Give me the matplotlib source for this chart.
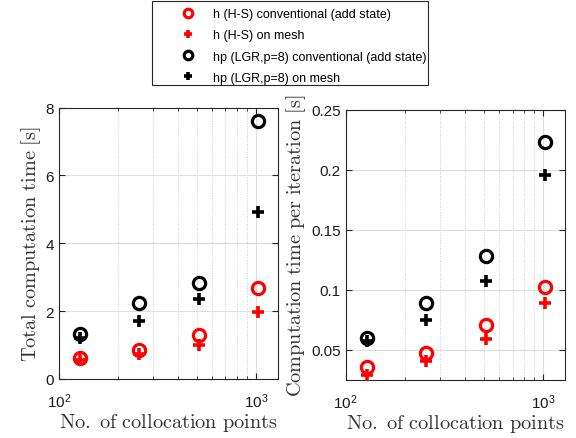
import matplotlib.pyplot as plt
from matplotlib.patches import Rectangle
from matplotlib.ticker import LogLocator, NullFormatter, FormatStrFormatter

# collocation points
n_points = [128, 256, 512, 1024]

# total computation time [s]
tot_h_conv = [0.62, 0.85, 1.30, 2.67]
tot_h_mesh = [0.57, 0.75, 1.00, 1.97]
tot_hp_conv = [1.33, 2.25, 2.83, 7.60]
tot_hp_mesh = [1.20, 1.72, 2.35, 4.92]

# computation time per iteration [s]
it_h_conv = [0.036, 0.047, 0.071, 0.102]
it_h_mesh = [0.029, 0.041, 0.059, 0.089]
it_hp_conv = [0.060, 0.089, 0.128, 0.223]
it_hp_mesh = [0.057, 0.075, 0.107, 0.196]

labels = ['h (H-S) conventional (add state)', 'h (H-S) on mesh',
          'hp (LGR,p=8) conventional (add state)', 'hp (LGR,p=8) on mesh']

plt.rcParams['font.family'] = ['Liberation Sans', 'DejaVu Sans']
plt.rcParams['mathtext.fontset'] = 'cm'

fig = plt.figure(figsize=(5.76, 4.39), dpi=100)
ax1 = fig.add_axes([0.1024, 0.1344, 0.3796, 0.6184])
ax2 = fig.add_axes([0.6002, 0.1326, 0.3806, 0.6152])

axcol = '0.15'


def draw(ax, series, ylim, yticks, ylabel):
    styles = [('o', 'red'), ('+', 'red'), ('o', 'black'), ('+', 'black')]
    handles = []
    for vals, (m, c), lab in zip(series, styles, labels):
        if m == 'o':
            h, = ax.plot(n_points, vals, m, ms=8.8, mfc='none', mec=c, mew=2.3,
                         ls='none', label=lab, zorder=3)
        else:
            h, = ax.plot(n_points, vals, m, ms=8, mec=c, mew=2.6,
                         ls='none', label=lab, zorder=3)
        handles.append(h)
    ax.set_xscale('log')
    ax.set_xlim(100, 1290)
    ax.set_ylim(*ylim)
    ax.set_yticks(yticks)
    ax.yaxis.set_major_formatter(FormatStrFormatter('%g'))
    ax.xaxis.set_minor_locator(LogLocator(base=10, subs=range(2, 10)))
    ax.xaxis.set_minor_formatter(NullFormatter())
    ax.grid(True, which='major', color='0.87', lw=0.8, ls='-')
    ax.grid(True, which='minor', axis='x', color='0.8', lw=0.7, ls=':')
    ax.set_axisbelow(True)
    ax.tick_params(which='both', direction='in', top=True, right=True,
                   colors=axcol, labelsize=11, labelcolor='0.1')
    ax.tick_params(which='major', length=4)
    ax.tick_params(which='minor', length=2)
    ax.tick_params(axis='x', which='major', pad=9)
    for s in ax.spines.values():
        s.set_color(axcol)
        s.set_linewidth(0.8)
    ax.set_xlabel(r'$\mathrm{No.\ of\ collocation\ points}$', fontsize=14.6,
                  color='0.2', labelpad=1)
    ax.set_ylabel(ylabel, fontsize=14.6, color='0.2', labelpad=2)
    return handles


handles = draw(ax1, [tot_h_conv, tot_h_mesh, tot_hp_conv, tot_hp_mesh],
               (0, 8), [0, 2, 4, 6, 8],
               r'$\mathrm{Total\ computation\ time\ [s]}$')
draw(ax2, [it_h_conv, it_h_mesh, it_hp_conv, it_hp_mesh],
     (0.025, 0.25), [0.05, 0.1, 0.15, 0.2, 0.25],
     r'$\mathrm{Computation\ time\ per\ iteration\ [s]}$')

# legend without its own frame, boxed by a rectangle like the reference
W, H = 576, 439
leg = fig.legend(handles, labels, loc='upper left',
                 bbox_to_anchor=(178 / W, 1 - 9 / H),
                 fontsize=9, frameon=False, markerscale=0.7,
                 handlelength=1.6, handletextpad=1.2,
                 labelspacing=0.74, borderpad=0, borderaxespad=0)
fig.add_artist(Rectangle((152 / W, 1 - 86 / H), 276 / W, 84 / H,
                         transform=fig.transFigure, fill=False,
                         edgecolor='0.15', lw=0.8))

fig.savefig('out.png', dpi=100)
